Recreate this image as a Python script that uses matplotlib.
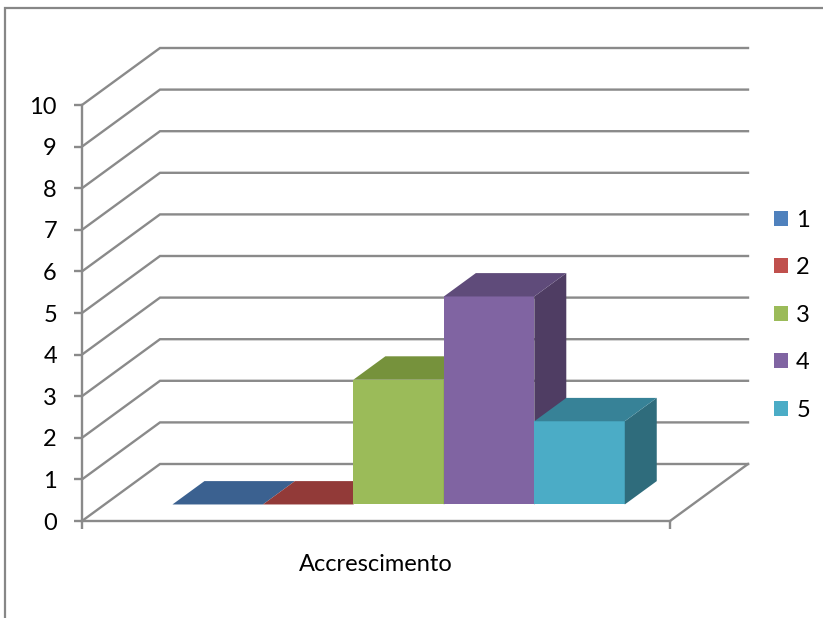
import matplotlib
matplotlib.use("Agg")
import matplotlib.pyplot as plt
from matplotlib.patches import Polygon, Rectangle, Patch

# Data
categories = ["Accrescimento"]
series_names = ["1", "2", "3", "4", "5"]
series_values = [0, 0, 3, 5, 2]
y_ticks = [0, 1, 2, 3, 4, 5, 6, 7, 8, 9, 10]

# Face colours (front, top, side) for each series
front_colors = ["#4F81BD", "#C0504D", "#9BBB59", "#8064A2", "#4BACC6"]
top_colors = ["#3B6190", "#923A38", "#76923C", "#5F4B7A", "#378297"]
side_colors = ["#2F4F75", "#7A302E", "#5F7530", "#4F3D63", "#2F6C7C"]

GRID = "#8A8A8A"
W, H, DPI = 823, 618, 100

fig = plt.figure(figsize=(W / DPI, H / DPI), dpi=DPI)
fig.patch.set_facecolor("white")

# Outer chart border (partially outside the canvas on the right/bottom)
fig.patches.append(Rectangle((4.5 / W, -0.05), 1.2, 1 - 7.5 / H + 0.05,
                             transform=fig.transFigure, fill=False,
                             edgecolor="#878787", linewidth=1.6))

# Front plane of the plot: x 82..670 px, value 0 at y=521 px, 10 at y=105 px
x0_px, x1_px = 82, 670
yb_px, yt_px = 521, 105
ax = fig.add_axes([x0_px / W, 1 - yb_px / H, (x1_px - x0_px) / W, (yb_px - yt_px) / H])
ax.set_xlim(0, 1)
ax.set_ylim(0, 10)
ax.set_facecolor("none")

# Oblique depth offset for a full depth step, in data units
px_per_x = (x1_px - x0_px)
px_per_y = (yb_px - yt_px) / 10.0
DX = 78 / px_per_x
DY = 57 / px_per_y

# Wall gridlines: side wall diagonal + back wall horizontal
for v in y_ticks:
    ax.plot([0, DX, 1 + DX], [v, v + DY, v + DY], color=GRID, lw=1.7,
            clip_on=False, zorder=1, solid_joinstyle="miter")
# Right edge of the floor
ax.plot([1, 1 + DX], [0, DY], color=GRID, lw=1.7, clip_on=False, zorder=1)

# 3D columns
n = len(series_values)
gap = 1.5
w = 1.0 / (n + gap)
t0, t1 = 0.29, 0.7
for i, (h, fc, tc, sc) in enumerate(zip(series_values, front_colors, top_colors, side_colors)):
    xl = gap / 2 * w + i * w
    xr = xl + w
    fx, fy = t0 * DX, t0 * DY
    bx, by = t1 * DX, t1 * DY
    if h > 0:
        ax.add_patch(Polygon([(xl + fx, fy), (xr + fx, fy), (xr + fx, h + fy), (xl + fx, h + fy)],
                             closed=True, facecolor=fc, edgecolor="none", clip_on=False, zorder=3))
        ax.add_patch(Polygon([(xr + fx, fy), (xr + bx, by), (xr + bx, h + by), (xr + fx, h + fy)],
                             closed=True, facecolor=sc, edgecolor="none", clip_on=False, zorder=3))
    ax.add_patch(Polygon([(xl + fx, h + fy), (xr + fx, h + fy), (xr + bx, h + by), (xl + bx, h + by)],
                         closed=True, facecolor=tc, edgecolor="none", clip_on=False, zorder=3))

# Axes lines, ticks and labels
for s in ["top", "right"]:
    ax.spines[s].set_visible(False)
for s in ["left", "bottom"]:
    ax.spines[s].set_color(GRID)
    ax.spines[s].set_linewidth(1.7)
    ax.spines[s].set_zorder(2)

FONT = "Lato"
FS = 17
ax.set_yticks(y_ticks)
ax.set_yticklabels([str(v) for v in y_ticks], fontname=FONT, fontsize=FS)
ax.tick_params(axis="y", length=6, width=1.7, color=GRID, pad=12)

ax.set_xticks([0, 1])
ax.set_xticklabels(["", ""])
ax.tick_params(axis="x", which="major", length=6, width=1.7, color=GRID)
ax.set_xticks([0.5], minor=True)
ax.set_xticklabels(categories, minor=True, fontname=FONT, fontsize=FS)
ax.tick_params(axis="x", which="minor", length=0, pad=23.5)

# Legend
handles = [Patch(facecolor=c, edgecolor="none") for c in front_colors]
fig.legend(handles, series_names, loc="upper left",
           bbox_to_anchor=(762 / W, 1 - 198 / H), frameon=False,
           prop={"family": FONT, "size": FS}, handlelength=0.6, handleheight=0.6,
           handletextpad=0.35, labelspacing=1.12, borderpad=0)

fig.savefig("out.png", dpi=DPI)
